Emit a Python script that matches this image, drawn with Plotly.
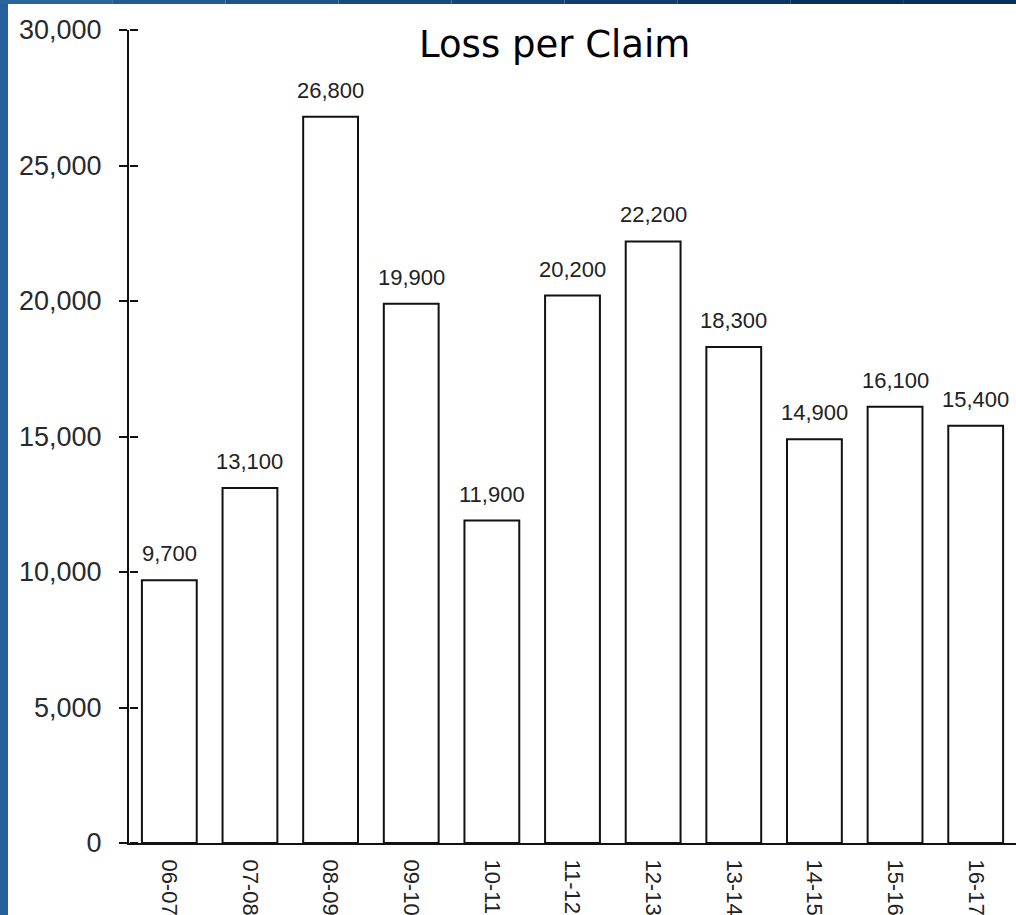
import plotly.graph_objects as go

# Fiscal years and average loss per claim
years = ["06-07", "07-08", "08-09", "09-10", "10-11", "11-12",
         "12-13", "13-14", "14-15", "15-16", "16-17"]
loss_per_claim = [9700, 13100, 26800, 19900, 11900, 20200,
                  22200, 18300, 14900, 16100, 15400]
y_ticks = [0, 5000, 10000, 15000, 20000, 25000, 30000]

W, H = 1016, 915
L, R, T, B = 129, 0, 30, 72
plot_w = W - L - R
plot_h = H - T - B


def px_x(p):
    return (p - L) / plot_w


def px_y(p):
    return (H - B - p) / plot_h


fig = go.Figure()

fig.add_trace(go.Bar(
    x=years,
    y=loss_per_claim,
    marker=dict(color="white", line=dict(color="#111111", width=2)),
    hoverinfo="x+y",
    showlegend=False,
))

# Transparent twin used only to draw the inner half of the value-axis ticks
fig.add_trace(go.Scatter(
    x=years, y=loss_per_claim, yaxis="y2", mode="markers",
    marker=dict(opacity=0), hoverinfo="skip", showlegend=False,
))

# Value labels above each bar
for yr, v in zip(years, loss_per_claim):
    fig.add_annotation(
        x=yr, y=v, text=f"{v:,}", showarrow=False,
        xanchor="center", yanchor="bottom", yshift=12,
        font=dict(family="Liberation Sans, Arial, sans-serif", size=22, color="#222222"),
    )

# Chart heading
fig.add_annotation(
    xref="paper", yref="paper", x=px_x(554), y=px_y(45),
    text="Loss per Claim", showarrow=False,
    xanchor="center", yanchor="middle",
    font=dict(family="DejaVu Sans, Tahoma, sans-serif", size=37, color="#000000"),
)

# Blue frame strips along the left and top edges
fig.add_shape(type="rect", xref="paper", yref="paper",
              x0=px_x(0), x1=px_x(8), y0=px_y(H), y1=px_y(0),
              fillcolor="#25609a", line=dict(width=0), layer="below")
top_colors = ["#2a6399", "#245b91", "#1e5288", "#194a7f", "#144376",
              "#0f3c6d", "#0b3664", "#08315c", "#063058"]
n = len(top_colors)
for i, c in enumerate(top_colors):
    fig.add_shape(type="rect", xref="paper", yref="paper",
                  x0=px_x(W * i / n), x1=px_x(W * (i + 1) / n),
                  y0=px_y(4), y1=px_y(0),
                  fillcolor=c, line=dict(width=0), layer="below")

tick_font = dict(family="Liberation Sans, Arial, sans-serif", size=27, color="#2a2a2a")

fig.update_layout(
    width=W, height=H,
    margin=dict(l=L, r=R, t=T, b=B, pad=0),
    paper_bgcolor="white",
    plot_bgcolor="white",
    bargap=0.32,
    showlegend=False,
    xaxis=dict(
        type="category",
        range=[-0.5, len(years) - 0.5],
        showline=True, linecolor="#111111", linewidth=2,
        showgrid=False, zeroline=False,
        ticks="", tickangle=90,
        ticklabelstandoff=10,
        tickfont=dict(family="Liberation Sans, Arial, sans-serif", size=22, color="#222222"),
    ),
    yaxis=dict(
        range=[0, 30000],
        tickvals=y_ticks,
        tickformat=",d",
        showline=True, linecolor="#111111", linewidth=2,
        showgrid=False, zeroline=False,
        ticks="outside", ticklen=8, tickwidth=2, tickcolor="#111111",
        ticklabelstandoff=12,
        tickfont=tick_font,
    ),
    yaxis2=dict(
        overlaying="y", anchor="free", position=0, side="right",
        range=[0, 30000], tickvals=y_ticks,
        showticklabels=False, showgrid=False, zeroline=False, showline=False,
        ticks="outside", ticklen=8, tickwidth=2, tickcolor="#111111",
    ),
)

fig.write_html("out.html")
